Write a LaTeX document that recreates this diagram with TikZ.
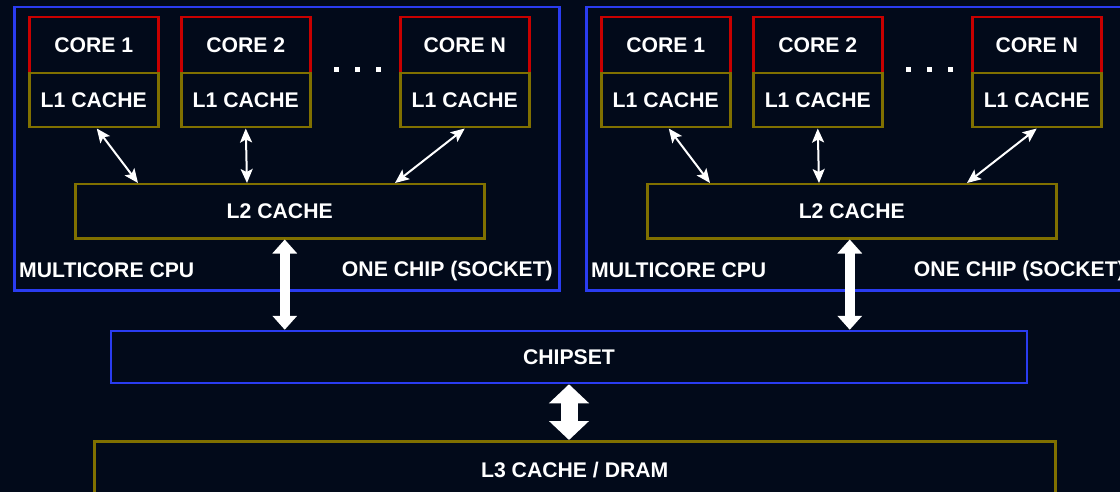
\documentclass[tikz,border=0pt]{standalone}
\usepackage{fontspec}
\setmainfont{Liberation Sans}
\usetikzlibrary{arrows.meta}

\definecolor{bgnavy}{RGB}{2,10,26}
\definecolor{cpublue}{RGB}{42,60,240}
\definecolor{corered}{RGB}{200,0,0}
\definecolor{cacheolive}{RGB}{128,112,0}

\tikzset{
    boxtext/.style={text=white, font=\bfseries\fontsize{21.2}{25}\selectfont},
    cpubox/.style={draw=cpublue, line width=2.5pt, anchor=north west, inner sep=0pt,
        minimum width=545pt, minimum height=283pt},
    corebox/.style={boxtext, draw=corered, line width=2.5pt, anchor=north west,
        minimum width=129pt, minimum height=56pt},
    cachebox/.style={boxtext, draw=cacheolive, line width=2.5pt, anchor=north west,
        minimum width=129pt, minimum height=54pt},
    smallarrow/.style={white, line width=2pt,
        {Stealth[length=14pt,width=12pt,inset=3pt]}-{Stealth[length=14pt,width=12pt,inset=3pt]}},
    bigarrow/.style={white, line width=10pt,
        {Triangle[length=14pt,width=24pt]}-{Triangle[length=14pt,width=24pt]}},
    fatarrow/.style={white, line width=17pt,
        {Triangle[length=19pt,width=39pt]}-{Triangle[length=19pt,width=39pt]}},
}

\begin{document}
\begin{tikzpicture}[x=1pt, y=-1pt]
        \useasboundingbox (0,0) rectangle (1120,492);
        \clip (0,0) rectangle (1120,492);
        \fill[bgnavy] (0,0) rectangle (1120,492);

        % one multicore cpu per socket
        \foreach \o [count=\i] in {0,572} {
            \node[cpubox] (cpu-\i) at ({13+\o},6) {};

            \node[corebox] (core1-\i) at ({28+\o},16) {CORE 1};
            \node[corebox] (core2-\i) at ({180+\o},16) {CORE 2};
            \node[corebox] (coreN-\i) at ({399+\o},16) {CORE N};
            \node[cachebox] (l1a-\i) at ({28+\o},72) {L1 CACHE};
            \node[cachebox] (l1b-\i) at ({180+\o},72) {L1 CACHE};
            \node[cachebox] (l1n-\i) at ({399+\o},72) {L1 CACHE};

            \foreach \d in {336,357,378}
                \fill[white] ({\d+\o-2.5},67.5) rectangle ++(5,5);

            \node[cachebox, minimum width=409pt] (l2-\i) at ({74+\o},183) {L2 CACHE};

            \node[boxtext, anchor=west, inner sep=0pt] (mc-\i) at ({19+\o},270) {MULTICORE CPU};
            \node[boxtext, anchor=east, inner sep=0pt] (chip-\i) at ({553+\o},271) {ONE CHIP (SOCKET)};

            \draw[smallarrow] ([xshift=3pt]l1a-\i.south) -- ([xshift=64pt]l2-\i.north west);
            \draw[smallarrow] (l1b-\i.south) -- ([xshift=173pt]l2-\i.north west);
            \draw[smallarrow] (l1n-\i.south) -- ([xshift=321pt]l2-\i.north west);
        }

        \node[boxtext, draw=cpublue, line width=2.5pt, minimum width=916pt, minimum height=52pt]
            (chipset) at (569,357) {CHIPSET};
        \node[boxtext, draw=cacheolive, line width=2.5pt, anchor=north west,
            minimum width=961pt, minimum height=58pt] (l3) at (93,440) {L3 CACHE / DRAM};

        \draw[bigarrow] ([xshift=5pt]l2-1.south) -- ([xshift=5pt]l2-1.south |- chipset.north);
        \draw[bigarrow] ([xshift=-2pt]l2-2.south) -- ([xshift=-2pt]l2-2.south |- chipset.north);
        \draw[fatarrow] (chipset.south) -- (chipset.south |- l3.north);
\end{tikzpicture}
\end{document}
